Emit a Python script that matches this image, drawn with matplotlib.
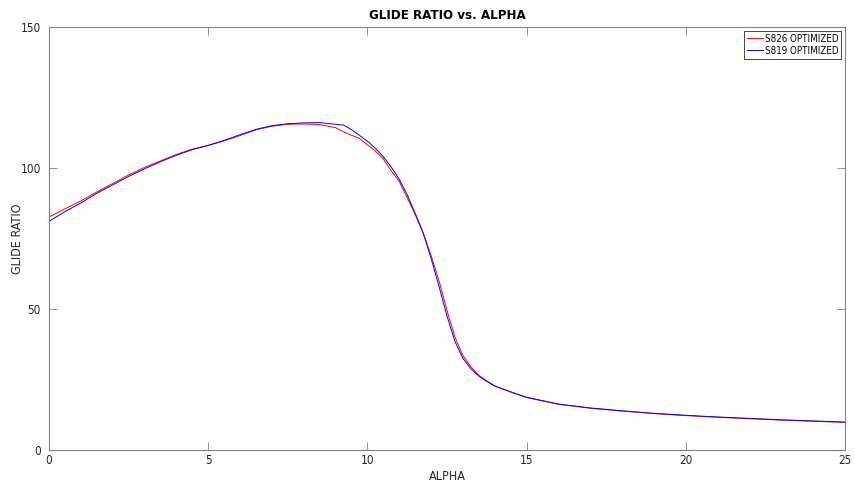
import numpy as np
import matplotlib
matplotlib.use("Agg")
import matplotlib.pyplot as plt

# angle of attack (deg)
alpha = [0, 0.5, 1, 1.5, 2, 2.5, 3, 3.5, 4, 4.5, 5, 5.5, 6, 6.5, 7, 7.5, 8, 8.5, 9,
         9.25, 9.5, 9.75, 10, 10.25, 10.5, 10.75, 11, 11.25, 11.5, 11.75, 12, 12.25,
         12.5, 12.75, 13, 13.25, 13.5, 13.75, 14, 14.5, 15, 16, 17, 18, 19, 20, 21,
         22, 23, 24, 25]

# glide ratio, S826 optimized
s826 = [82.6, 85.5, 88.3, 91.5, 94.5, 97.5, 100.2, 102.5, 104.8, 106.7, 108.0, 109.6,
        111.5, 113.5, 114.8, 115.5, 115.6, 115.4, 114.3, 112.8, 111.6, 110.5, 108.2,
        106.0, 103.2, 99.0, 95.2, 89.5, 83.5, 77.0, 69.0, 60.0, 49.5, 40.0, 33.5, 29.5,
        26.5, 24.5, 22.7, 20.6, 18.6, 16.2, 14.8, 13.8, 12.9, 12.2, 11.6, 11.1, 10.6,
        10.2, 9.8]

# glide ratio, S819 optimized
s819 = [81.1, 84.5, 87.6, 91.0, 94.0, 97.0, 99.7, 102.2, 104.5, 106.5, 108.0, 109.8,
        111.8, 113.7, 115.0, 115.7, 116.0, 116.1, 115.5, 115.2, 113.6, 111.6, 109.5,
        107.0, 104.0, 100.3, 96.0, 90.5, 84.0, 77.0, 68.0, 58.0, 47.5, 38.5, 32.5, 28.8,
        26.2, 24.3, 22.7, 20.6, 18.7, 16.3, 14.9, 13.9, 13.0, 12.3, 11.7, 11.2, 10.7,
        10.3, 9.9]

plt.rcParams["font.family"] = "DejaVu Sans"
plt.rcParams["font.stretch"] = "condensed"

fig = plt.figure(figsize=(8.55, 4.87), dpi=100)
ax = fig.add_axes([0.0573, 0.076, 0.931, 0.8686])

ax.plot(alpha, s826, color="red", linewidth=0.7, label="S826 OPTIMIZED")
ax.plot(alpha, s819, color="blue", linewidth=0.7, label="S819 OPTIMIZED")

ax.set_xlim(0, 25)
ax.set_ylim(0, 150)
ax.set_xticks([0, 5, 10, 15, 20, 25])
ax.set_yticks([0, 50, 100, 150])

# MATLAB-ish look: box on, ticks inside on all sides
for s in ax.spines.values():
    s.set_color("#808080")
    s.set_linewidth(0.8)
ax.tick_params(direction="in", top=True, right=True, length=6, width=0.6,
               color="#808080", labelcolor="#262626", labelsize=8.5, pad=3)
ax.tick_params(axis="y", pad=6)

ax.set_title("GLIDE RATIO vs. ALPHA", fontsize=9.5, fontweight="bold", pad=6)
ax.set_xlabel("ALPHA", fontsize=9, color="#262626", labelpad=2)
ax.set_ylabel("GLIDE RATIO", fontsize=9, color="#262626")
ax.yaxis.set_label_coords(-0.032, 0.5)

leg = ax.legend(loc="upper right", fontsize=7, handlelength=1.6, handletextpad=0.2,
                borderpad=0.3, labelspacing=0.2, fancybox=False, framealpha=1,
                borderaxespad=0.4)
leg.get_frame().set_edgecolor("#262626")
leg.get_frame().set_linewidth(0.6)

fig.savefig("out.png", dpi=100)
